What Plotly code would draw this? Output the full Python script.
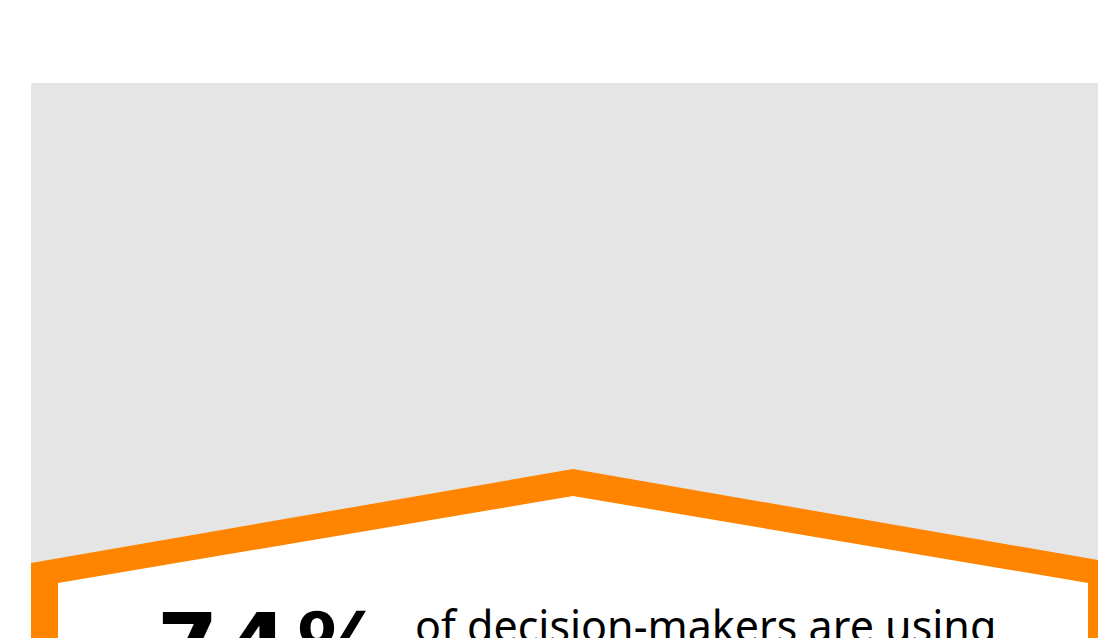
import plotly.graph_objects as go

# ---- data ----
stat_value = ["74%"]
stat_text = ["of decision-makers are using"]

# house outline (design units: pixels inside plot area, y measured from top)
outer_x = [0, 542, 1084, 1084, 0, 0]
outer_y = [480, 386, 480, 886, 886, 480]
inner_x = [27, 542, 1057, 1057, 27, 27]
inner_y = [500, 413, 500, 860, 860, 500]

ORANGE = "#ff8500"
GRAY = "#e5e5e5"

fig = go.Figure()
fig.add_trace(go.Scatter(x=outer_x, y=outer_y, fill="toself", fillcolor=ORANGE,
                         mode="lines", line=dict(width=0, color=ORANGE),
                         hoverinfo="skip", showlegend=False))
fig.add_trace(go.Scatter(x=inner_x, y=inner_y, fill="toself", fillcolor="white",
                         mode="lines", line=dict(width=0, color="white"),
                         hoverinfo="skip", showlegend=False))

fig.add_annotation(x=124, y=509, xref="x", yref="y", text="7\u200a4\u200a" + stat_value[0][2:],
                   showarrow=False, xanchor="left", yanchor="top",
                   font=dict(family="DejaVu Sans", size=88, color="black", weight="bold"))
fig.add_annotation(x=382, y=511, xref="x", yref="y", text=stat_text[0],
                   showarrow=False, xanchor="left", yanchor="top",
                   font=dict(family="Noto Sans", size=43, color="black"))

fig.update_xaxes(range=[0, 1084], visible=False, showgrid=False, zeroline=False, fixedrange=True)
fig.update_yaxes(range=[886, 0], visible=False, showgrid=False, zeroline=False, fixedrange=True)

fig.update_layout(width=1146, height=1000,
                  margin=dict(l=31, r=31, t=83, b=31, pad=0),
                  plot_bgcolor=GRAY, paper_bgcolor="white")

fig.write_html("out.html", config={"displayModeBar": False},
               post_script="document.body.style.margin='0';")
